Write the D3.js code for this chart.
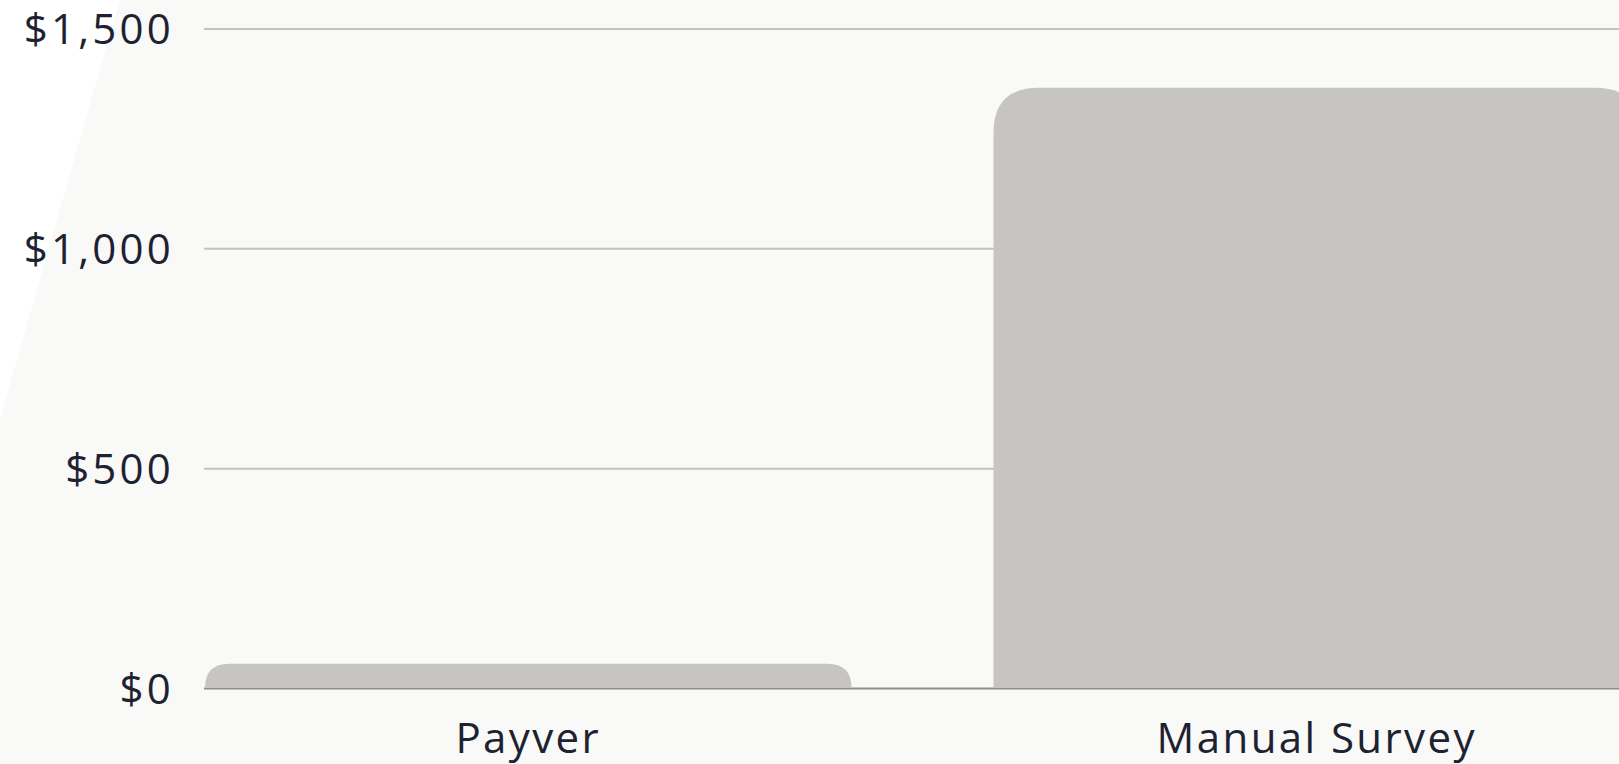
<!DOCTYPE html>
<html>
<head>
<meta charset="utf-8">
<script src="https://cdn.jsdelivr.net/npm/d3@7"></script>
<style>
  html, body { margin: 0; padding: 0; overflow: hidden; background: #f9f9f7; }
  #chart svg { display: block; }
  .tick text { font-family: "Open Sans", sans-serif; fill: #1e2230; }
</style>
</head>
<body>
<div id="chart"></div>
<script>
// values
var categories = ["Payver", "Manual Survey"];
var costs = [55, 1365];
var tickValues = [0, 500, 1000, 1500];

var width = 1619,
    height = 764;

var svg = d3.select("#chart").append("svg").attr("width", width).attr("height", height);

// light backdrop with a white wedge on the left
svg.append("rect").attr("width", width).attr("height", height).attr("fill", "#f9f9f7");
svg.append("path").attr("d", "M0,0L120,0L0,420Z").attr("fill", "#ffffff");

var x = d3.scaleBand().domain(categories).range([205, 1640]).paddingInner(0.18).paddingOuter(0);
var y = d3.scaleLinear().domain([0, 1500]).range([688, 28.5]);

// gridlines + labels
var yAxis = svg.append("g")
    .attr("transform", "translate(204,0)")
    .call(d3.axisLeft(y).tickValues(tickValues).tickSize(-(width - 204)).tickPadding(30)
        .tickFormat(d => "$" + d3.format(",")(d)));
yAxis.select(".domain").remove();
yAxis.selectAll(".tick line")
    .attr("stroke", d => d == 0 ? "#8e8e8c" : "#c2c2c0")
    .attr("stroke-width", 2);
yAxis.selectAll(".tick text")
    .attr("font-size", "42px")
    .attr("letter-spacing", "3.2px")
    .attr("dy", "0.36em");

// bars with rounded top corners
function topRounded(x0, y0, w, h, r) {
    r = Math.min(r, h, w / 2);
    return "M" + x0 + "," + (y0 + h) +
        "V" + (y0 + r) +
        "Q" + x0 + "," + y0 + " " + (x0 + r) + "," + y0 +
        "H" + (x0 + w - r) +
        "Q" + (x0 + w) + "," + y0 + " " + (x0 + w) + "," + (y0 + r) +
        "V" + (y0 + h) + "Z";
}

svg.append("g")
    .selectAll("path")
    .data(categories)
    .join("path")
    .attr("fill", "#c6c5c3")
    .attr("d", function (d, i) {
        var top = y(costs[i]);
        return topRounded(x(d), top, x.bandwidth(), y(0) - top, 45);
    });

// category labels
var xAxis = svg.append("g")
    .attr("transform", "translate(0,688)")
    .call(d3.axisBottom(x).tickSize(0).tickPadding(0));
xAxis.select(".domain").remove();
xAxis.selectAll(".tick text")
    .attr("font-size", "42px")
    .attr("letter-spacing", "2.4px")
    .attr("dy", "1.55em")
    .attr("y", 0);
</script>
</body>
</html>
